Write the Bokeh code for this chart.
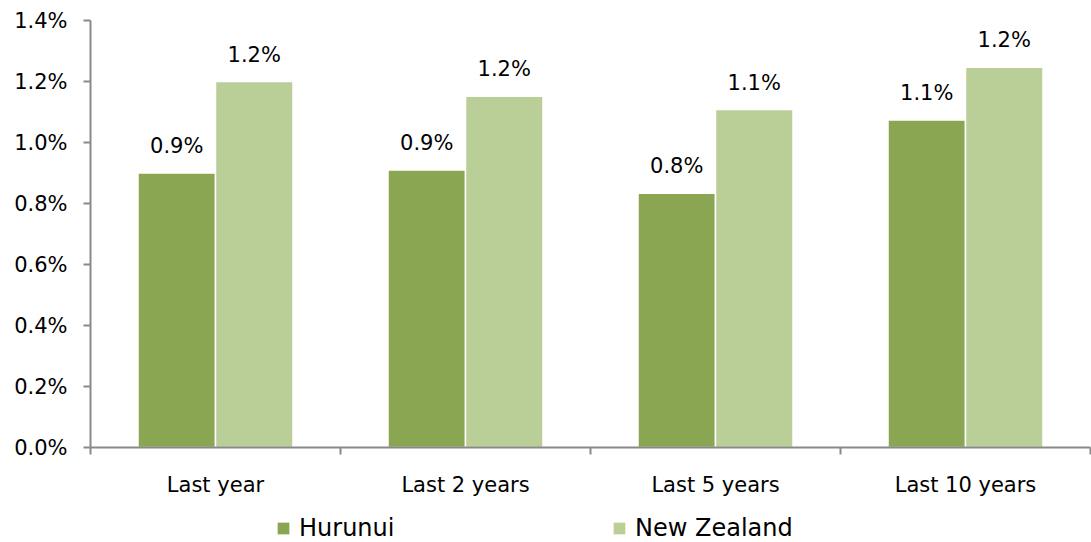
from bokeh.plotting import figure
from bokeh.layouts import column
from bokeh.models import (Range1d, FixedTicker, PrintfTickFormatter, CustomJSTickFormatter,
                          Legend, LegendItem, ColumnDataSource)
from bokeh.core.properties import value
from bokeh.embed import file_html
from bokeh.resources import INLINE
from decimal import Decimal, ROUND_HALF_UP

# ---- data (percent) ----
categories = ["Last year", "Last 2 years", "Last 5 years", "Last 10 years"]
hurunui = [0.90, 0.91, 0.834, 1.074]
new_zealand = [1.20, 1.152, 1.108, 1.247]
series_names = ["Hurunui", "New Zealand"]
y_ticks = [0.0, 0.2, 0.4, 0.6, 0.8, 1.0, 1.2, 1.4]

DARK = "#8AA653"
LIGHT = "#BACE98"
AXIS = "#898989"
FONT = value("DejaVu Sans")


def fmt(v):
    return str(Decimal(str(v)).quantize(Decimal("0.1"), rounding=ROUND_HALF_UP)) + "%"


idx = list(range(len(categories)))
off = 0.155
bw = 0.31

src_h = ColumnDataSource(dict(x=[i + 0.5 - off for i in idx], top=hurunui,
                              lab=[fmt(v) for v in hurunui]))
src_n = ColumnDataSource(dict(x=[i + 0.5 + off for i in idx], top=new_zealand,
                              lab=[fmt(v) for v in new_zealand]))

p = figure(width=1091, height=499, output_backend="svg", toolbar_location=None,
           x_range=Range1d(0, len(categories)), y_range=Range1d(0, 1.4),
           min_border_left=90, min_border_right=1, min_border_top=20, min_border_bottom=0)
p.outline_line_color = None
p.grid.visible = False
p.background_fill_color = "white"
p.border_fill_color = "white"

r1 = p.vbar(x="x", top="top", width=bw, source=src_h, fill_color=DARK,
            line_color="white", line_width=1.5)
r2 = p.vbar(x="x", top="top", width=bw, source=src_n, fill_color=LIGHT,
            line_color="white", line_width=1.5)

for s in (src_h, src_n):
    p.text(x="x", y="top", text="lab", source=s, text_align="center",
           text_baseline="alphabetic", y_offset=-27, text_font=FONT,
           text_font_size="21px", text_color="black")

# y axis
ya = p.yaxis[0]
ya.ticker = FixedTicker(ticks=y_ticks, minor_ticks=[])
ya.formatter = PrintfTickFormatter(format="%.1f%%")
ya.axis_line_color = AXIS
ya.axis_line_width = 2
ya.major_tick_line_color = AXIS
ya.major_tick_line_width = 2
ya.major_tick_out = 7
ya.major_tick_in = 0
ya.minor_tick_line_color = None
ya.major_label_standoff = 16
ya.major_label_text_font = "DejaVu Sans"
ya.major_label_text_font_size = "21px"
ya.major_label_text_color = "black"

# x axis
xa = p.xaxis[0]
xa.ticker = FixedTicker(ticks=[i + 0.5 for i in idx], minor_ticks=list(range(len(categories) + 1)))
xa.formatter = CustomJSTickFormatter(args=dict(cats=categories),
                                     code="return cats[Math.floor(tick)] || '';")
xa.axis_line_color = AXIS
xa.axis_line_width = 2
xa.major_tick_out = 0
xa.major_tick_in = 0
xa.major_tick_line_color = None
xa.minor_tick_line_color = AXIS
xa.minor_tick_line_width = 2
xa.minor_tick_out = 7
xa.minor_tick_in = 0
xa.major_label_standoff = 18
xa.major_label_text_font = "DejaVu Sans"
xa.major_label_text_font_size = "21px"
xa.major_label_text_color = "black"

# legend strip below the chart (keys drawn from off-range placeholder renderers)
lg = figure(width=1091, height=43, output_backend="svg", toolbar_location=None,
            x_range=Range1d(0, 1), y_range=Range1d(0, 1),
            x_axis_type=None, y_axis_type=None,
            min_border_left=0, min_border_right=0, min_border_top=0, min_border_bottom=0)
lg.outline_line_color = None
lg.grid.visible = False
k1 = lg.vbar(x=[5], top=[0], width=0.1, fill_color=DARK, line_color="white", line_width=1)
k2 = lg.vbar(x=[5], top=[0], width=0.1, fill_color=LIGHT, line_color="white", line_width=1)

legend = Legend(items=[LegendItem(label=series_names[0], renderers=[k1]),
                       LegendItem(label=series_names[1], renderers=[k2])],
                orientation="horizontal", location=(185, 0),
                glyph_width=16, glyph_height=16, label_standoff=8, label_width=312,
                label_height=28, spacing=0, padding=0, margin=0,
                border_line_color=None, background_fill_alpha=0,
                label_text_font="DejaVu Sans", label_text_font_size="24px",
                label_text_color="black")
lg.add_layout(legend)

open("out.html", "w").write(file_html(column(p, lg, spacing=0), INLINE))
